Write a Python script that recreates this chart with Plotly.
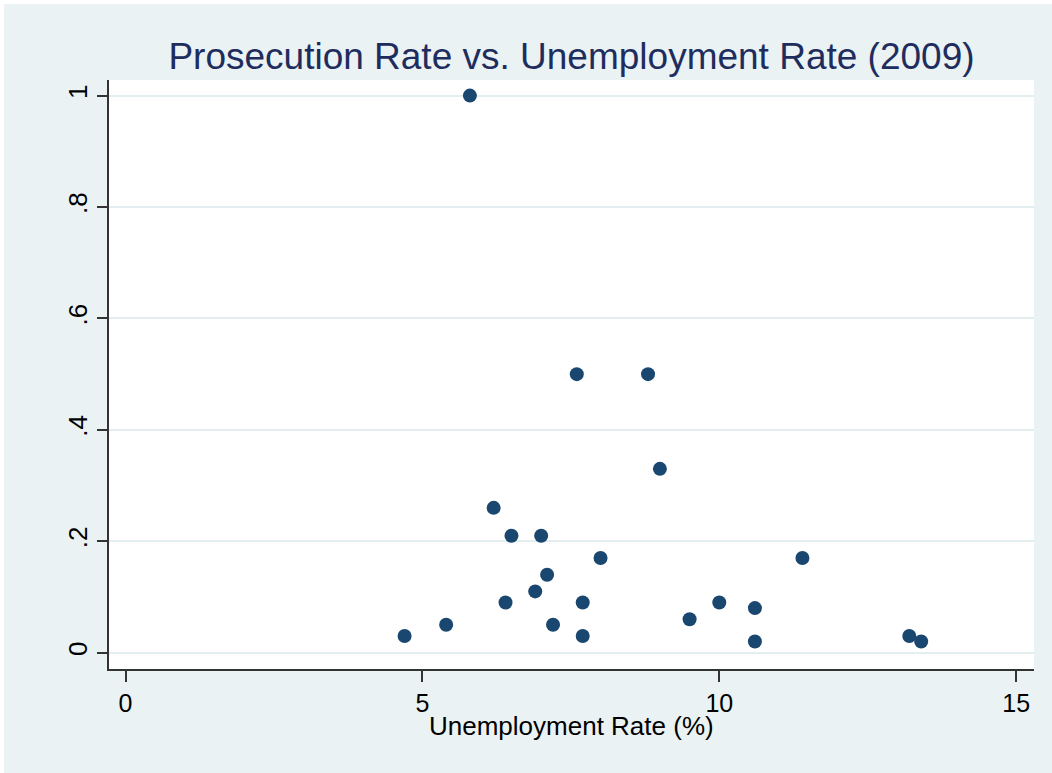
import plotly.graph_objects as go

# Data
unemployment = [4.7, 5.4, 5.8, 6.2, 6.4, 6.5, 6.9, 7.0, 7.1, 7.2, 7.6, 7.7, 7.7,
                8.0, 8.8, 9.0, 9.5, 10.0, 10.6, 10.6, 11.4, 13.2, 13.4]
prosecution = [0.03, 0.05, 1.0, 0.26, 0.09, 0.21, 0.11, 0.21, 0.14, 0.05, 0.50, 0.09, 0.03,
               0.17, 0.50, 0.33, 0.06, 0.09, 0.08, 0.02, 0.17, 0.03, 0.02]

x_tickvals = [0, 5, 10, 15]
x_ticktext = ["0", "5", "10", "15"]
y_tickvals = [0, 0.2, 0.4, 0.6, 0.8, 1.0]
y_ticktext = ["0", ".2", ".4", ".6", ".8", "1"]

W, H = 1052, 773
L, R, T, B = 109, 18, 80, 104
pw, ph = W - L - R, H - T - B

BG = "#EAF2F3"
NAVY = "#1A476F"
FONT = "Liberation Sans, Arial, sans-serif"

fig = go.Figure()
fig.add_trace(go.Scatter(
    x=unemployment, y=prosecution, mode="markers",
    marker=dict(color=NAVY, size=14, line=dict(width=0)),
    showlegend=False, hoverinfo="x+y",
))

def px_to_paper_x(p):
    return (p - L) / pw

def px_to_paper_y(p):
    return (H - B - p) / ph

shapes = [
    dict(type="rect", xref="paper", yref="paper", layer="below",
         x0=px_to_paper_x(4), x1=px_to_paper_x(W + 2),
         y0=px_to_paper_y(H + 2), y1=px_to_paper_y(4),
         fillcolor=BG, line=dict(width=0)),
    dict(type="rect", xref="paper", yref="paper", layer="below",
         x0=0, x1=1, y0=0, y1=1, fillcolor="white", line=dict(width=0)),
]

annotations = [
    dict(text="Unemployment Rate (%)", xref="paper", yref="paper",
         x=0.5, y=px_to_paper_y(726), xanchor="center", yanchor="middle",
         showarrow=False, font=dict(family=FONT, size=26, color="#000000")),
]

fig.update_layout(
    width=W, height=H,
    margin=dict(l=L, r=R, t=T, b=B, pad=0),
    paper_bgcolor="white", plot_bgcolor="rgba(0,0,0,0)",
    font=dict(family=FONT, size=25, color="#000000"),
    shapes=shapes,
    annotations=annotations,
    title=dict(text="Prosecution Rate vs. Unemployment Rate (2009)",
               font=dict(family=FONT, size=37, color="#1E2D5E"),
               xref="paper", x=0.5, xanchor="center",
               yref="container", y=1 - 56 / H, yanchor="middle"),
    xaxis=dict(range=[-0.278, 15.30], tickvals=x_tickvals, ticktext=x_ticktext,
               showgrid=False, zeroline=False, showline=True,
               linecolor="#333333", linewidth=1.5,
               ticks="outside", ticklen=11, tickwidth=1.5, tickcolor="#333333",
               tickfont=dict(size=25, color="#000000")),
    yaxis=dict(range=[-0.0293, 1.028], tickvals=y_tickvals, ticktext=y_ticktext,
               showgrid=True, gridcolor="#E4EEF1", gridwidth=2,
               zeroline=False, showline=True,
               linecolor="#333333", linewidth=1.5,
               ticks="outside", ticklen=10, tickwidth=1.5, tickcolor="#333333",
               tickangle=-90,
               tickfont=dict(size=26, color="#000000")),
)

fig.write_html("out.html")
